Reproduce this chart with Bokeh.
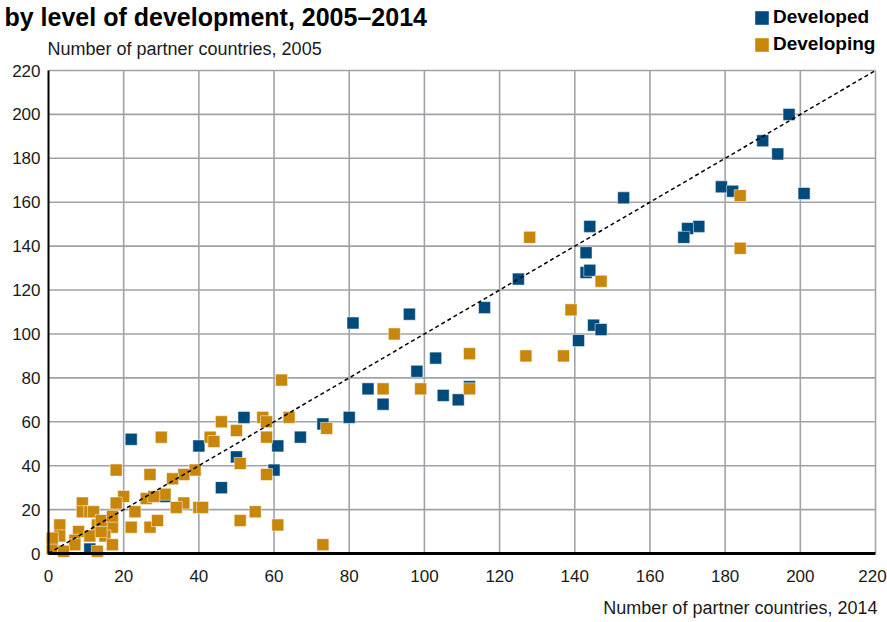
from bokeh.plotting import figure
from bokeh.models import Range1d, Label, Legend, LegendItem
from bokeh.embed import file_html
from bokeh.resources import INLINE

# ---------------- data ----------------
axis_ticks = [0, 20, 40, 60, 80, 100, 120, 140, 160, 180, 200, 220]
tick_labels = [str(t) for t in axis_ticks]

developed_2014 = [197, 190, 194, 179, 182, 201, 173, 170, 169, 153,
                  144, 143, 143, 144, 125, 116, 145, 147, 141,
                  81, 96, 103, 98, 85, 105, 109, 89, 112, 80,
                  52, 73, 67, 40, 61, 50, 60, 46, 31, 22, 11]
developed_2005 = [200, 188, 182, 167, 165, 164, 149, 148, 144, 162,
                  149, 137, 128, 129, 125, 112, 104, 102, 97,
                  105, 109, 89, 83, 75, 72, 70, 68, 76, 62,
                  62, 59, 53, 49, 49, 44, 38, 30, 26, 52, 2]

developing_2014 = [184, 184, 128, 147, 139, 127, 137,
                   92, 112, 89, 99, 112,
                   62, 57, 58, 64, 46, 74, 50, 43, 44, 58, 30, 51, 58, 39, 36, 33,
                   31, 36, 34, 40, 41, 55, 51, 61, 73,
                   18, 27, 20, 18, 26, 28, 9, 9, 11, 12, 23, 3, 13, 17, 17, 22, 27,
                   29, 3, 8, 11, 15, 14, 7, 1, 1, 7, 17, 4, 13, 1, 14, 17]
developing_2005 = [163, 139, 144, 124, 111, 90, 90,
                   100, 91, 75, 75, 75,
                   79, 62, 60, 62, 60, 57, 56, 53, 51, 53, 53, 41, 36, 38, 36, 34,
                   27, 23, 21, 21, 21, 19, 15, 13, 4,
                   38, 36, 26, 23, 25, 26, 23, 19, 19, 19, 19, 13, 13, 15, 12, 12, 12,
                   15, 8, 10, 8, 8, 10, 6, 5, 2, 4, 4, 1, 1, 7, 15, 17]

series_names = ["Developed", "Developing"]
title_text = "by level of development, 2005\u20132014"
y_title = "Number of partner countries, 2005"
x_title = "Number of partner countries, 2014"

# ---------------- style / layout ----------------
BLUE = "#004b7c"
GOLD = "#c8870a"
GRID = "#9fa3a9"
FONT = "Liberation Sans"

W, H = 887, 622
# plot-area corners in page pixels
PX_LEFT, PX_RIGHT, PX_TOP, PX_BOTTOM = 48, 875, 70, 553
lo, hi = axis_ticks[0], axis_ticks[-1]
sx = (PX_RIGHT - PX_LEFT) / (hi - lo)
sy = (PX_BOTTOM - PX_TOP) / (hi - lo)

p = figure(width=W, height=H, output_backend="svg", toolbar_location=None,
           x_range=Range1d(lo - PX_LEFT / sx, lo + (W - PX_LEFT) / sx),
           y_range=Range1d(lo - (H - PX_BOTTOM) / sy, lo + PX_BOTTOM / sy),
           x_axis_type=None, y_axis_type=None,
           min_border_left=0, min_border_right=0,
           min_border_top=0, min_border_bottom=0)
p.outline_line_color = None
p.background_fill_color = "white"
p.border_fill_color = "white"
p.grid.visible = False

# grid lines at every tick (except the axis positions)
grid_ticks = axis_ticks[1:]
p.segment(x0=grid_ticks, y0=[lo] * len(grid_ticks), x1=grid_ticks, y1=[hi] * len(grid_ticks),
          line_color=GRID, line_width=1.6)
p.segment(x0=[lo] * len(grid_ticks), y0=grid_ticks, x1=[hi] * len(grid_ticks), y1=grid_ticks,
          line_color=GRID, line_width=1.6)

# data
p.scatter(developed_2014, developed_2005, marker="square", size=12,
          fill_color=BLUE, line_color="white", line_width=0.5)
p.scatter(developing_2014, developing_2005, marker="square", size=12,
          fill_color=GOLD, line_color="white", line_width=0.5)

# diagonal y = x
p.line(x=[lo, hi], y=[lo, hi], line_color="black", line_dash="4 3", line_width=1.5)

# axis lines
p.segment(x0=[lo], y0=[lo], x1=[lo], y1=[hi], line_color="black", line_width=2)
p.segment(x0=[lo], y0=[lo], x1=[hi], y1=[lo], line_color="black", line_width=3)

# tick labels (last x label nudged so it stays on the page)
x_label_shift = [0] * (len(axis_ticks) - 1) + [-3]
p.text(x=axis_ticks, y=[lo] * len(axis_ticks), text=tick_labels,
       text_font={"value": FONT}, text_font_size="17px", text_color="#1a1a1a",
       text_align="center", text_baseline="middle", y_offset=22, x_offset=x_label_shift)
p.text(x=[lo] * len(axis_ticks), y=axis_ticks, text=tick_labels,
       text_font={"value": FONT}, text_font_size="17px", text_color="#1a1a1a",
       text_align="right", text_baseline="middle", x_offset=-8)

# legend swatches: zero-size rects (invisible in the plot) whose legend glyph is a filled square
sw1 = p.rect(x=developed_2014, y=developed_2005, width=0, height=0,
             fill_color=BLUE, line_color=None)
sw2 = p.rect(x=developing_2014, y=developing_2005, width=0, height=0,
             fill_color=GOLD, line_color=None)
legend = Legend(items=[LegendItem(label=series_names[0], renderers=[sw1]),
                       LegendItem(label=series_names[1], renderers=[sw2])],
                location=(753, H - 55), padding=0, margin=0, spacing=5,
                glyph_width=17, glyph_height=17, label_standoff=3,
                label_text_font=FONT, label_text_font_style="bold",
                label_text_font_size="19px", label_text_color="black",
                border_line_color=None, background_fill_alpha=0)
p.add_layout(legend, "center")

# texts
p.add_layout(Label(x=4, y=H - 2, x_units="screen", y_units="screen",
                   text=title_text, text_font=FONT, text_font_style="bold",
                   text_font_size="25px", text_color="black",
                   text_baseline="top", text_align="left"))
p.add_layout(Label(x=47, y=H - 48, x_units="screen", y_units="screen",
                   text=y_title, text_font=FONT, text_font_size="18px",
                   text_color="#1a1a1a", text_baseline="middle", text_align="left"))
p.add_layout(Label(x=877, y=H - 607, x_units="screen", y_units="screen",
                   text=x_title, text_font=FONT, text_font_size="18px",
                   text_color="#1a1a1a", text_baseline="middle", text_align="right"))

open("out.html", "w").write(file_html(p, INLINE))
